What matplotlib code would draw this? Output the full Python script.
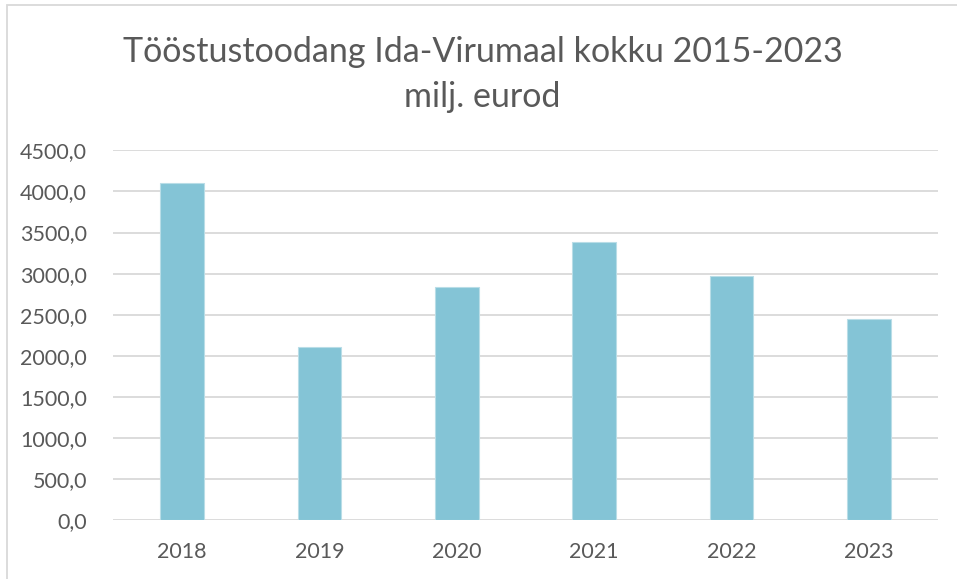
import matplotlib
matplotlib.use("Agg")
import matplotlib.pyplot as plt
from matplotlib.patches import Rectangle
from matplotlib.ticker import FuncFormatter

years = ["2018", "2019", "2020", "2021", "2022", "2023"]
values = [4097, 2110, 2836, 3383, 2966, 2447]
yticks = [0, 500, 1000, 1500, 2000, 2500, 3000, 3500, 4000, 4500]

plt.rcParams['font.family'] = ['Lato', 'DejaVu Sans']
text_color = "#595959"
grid_color = "#D9D9D9"
bar_color = "#84C4D6"

W, H = 957, 579
fig = plt.figure(figsize=(W/100, H/100), dpi=100)
ax = fig.add_axes([113.3/W, 1-520.2/H, (937.7-113.3)/W, (520.2-150.3)/H])

x = list(range(len(years)))
ax.bar(x, values, width=0.316, color=bar_color, edgecolor="#B9DDE7", linewidth=0.8, zorder=3)
ax.set_xlim(-0.5, len(years)-0.5)
ax.set_ylim(0, 4500)
ax.set_yticks(yticks)
ax.yaxis.set_major_formatter(FuncFormatter(lambda v, p: f"{v:.1f}".replace(".", ",")))
ax.set_xticks(x)
ax.set_xticklabels(years)
ax.grid(axis='y', color=grid_color, linewidth=1.3, zorder=0)
for s in ax.spines.values():
    s.set_visible(False)
ax.tick_params(axis='both', length=0, colors=text_color, labelsize=15.5)
ax.tick_params(axis='y', pad=19)
ax.tick_params(axis='x', pad=16)

fig.text(0.5 + 4/W, 1-52/H, "Tööstustoodang Ida-Virumaal kokku 2015-2023", ha='center', va='center', fontsize=24.5, color=text_color)
fig.text(0.5 + 4/W, 1-97/H, "milj. eurod", ha='center', va='center', fontsize=24.5, color=text_color)

fig.patches.append(Rectangle((7/W, -0.1), 2, 1.1 - 5/H, transform=fig.transFigure, fill=False, edgecolor="#D9D9D9", linewidth=1.3))

fig.savefig("out.png", dpi=100)
